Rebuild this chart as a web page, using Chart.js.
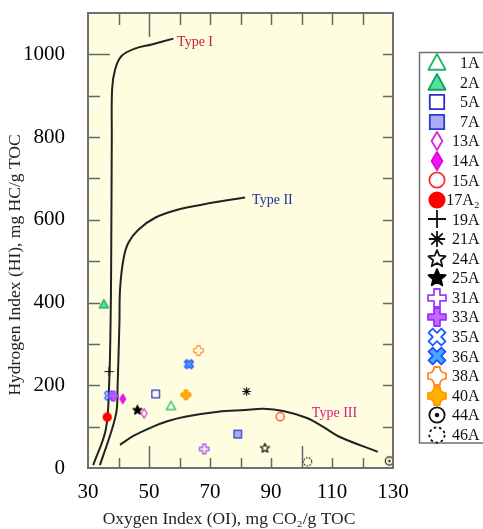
<!DOCTYPE html>
<html>
<head>
<meta charset="utf-8">
<script src="https://cdn.jsdelivr.net/npm/chart.js@4.4.1/dist/chart.umd.min.js"></script>
<style>
    html, body { margin: 0; padding: 0; background: #fff; }
    #wrap { width: 483px; height: 529px; }
</style>
</head>
<body>
<div id="wrap"><canvas id="hi-oi-chart" width="483" height="529"></canvas></div>
<script>
// samples (Oxygen Index vs Hydrogen Index)
const sampleNames = ['1A', '2A', '5A', '7A', '13A', '14A', '15A', '17A₂', '19A', '21A',
    '24A', '25A', '31A', '33A', '35A', '36A', '38A', '40A', '44A', '46A'];
const oxygenIndex = [57.2, 35.2, 52.2, 79.1, 48.4, 41.4, 93.0, 36.3, 36.9, 82.0,
    88.0, 46.2, 68.1, 38.3, 36.9, 63.1, 66.2, 62.1, 128.8, 102.0];
const hydrogenIndex = [150, 396, 179, 82, 132, 167, 124, 123, 233, 185,
    48, 140, 46, 174, 175, 251, 284, 177, 17, 15];

// kerogen type evolution curves
const typeIOI = [31.7, 35.8, 36.9, 37.4, 37.6, 37.8, 37.9, 38.9, 41.0, 45.4, 50.9, 58.0];
const typeIHI = [7, 92, 197, 350, 500, 800, 915, 964, 996, 1014, 1024, 1038];
const typeIIOI = [33.9, 37.8, 39.4, 39.7, 40.3, 40.5, 41.6, 43.2, 46.5, 52.0, 59.6, 70.6, 81.5];
const typeIIHI = [7, 92, 140, 197, 350, 431, 504, 544, 576, 605, 625, 641, 654];
const typeIIIOI = [40.5, 45, 51, 56, 61.8, 72.7, 81.5, 87.4, 94, 101.8, 107, 112.6, 125];
const typeIIIHI = [56, 78, 99, 113, 124, 136, 140, 143, 138, 121, 100, 75, 39];

const curveNames = ['Type I', 'Type II', 'Type III'];
const curveLabelOI = [59.2, 83.8, 103.4];
const curveLabelHI = [1029, 646, 133];

const xTickLabels = [30, 50, 70, 90, 110, 130];
const yTickLabels = [0, 200, 400, 600, 800, 1000];

const markerStyles = [
    { shape: 'triangle', fill: null, stroke: '#1db866' },
    { shape: 'triangle', fill: '#50e3a4', stroke: '#16a05c' },
    { shape: 'square', fill: null, stroke: '#2a2ad8' },
    { shape: 'square', fill: '#a9adf5', stroke: '#2a3ad0' },
    { shape: 'diamond', fill: null, stroke: '#e020e8' },
    { shape: 'diamond', fill: '#f015f0', stroke: '#e000e0' },
    { shape: 'circle', fill: null, stroke: '#ff2a2a' },
    { shape: 'circle', fill: '#ff0000', stroke: '#ff0000' },
    { shape: 'plus', fill: null, stroke: '#111' },
    { shape: 'asterisk', fill: null, stroke: '#111' },
    { shape: 'star', fill: null, stroke: '#111' },
    { shape: 'star', fill: '#000', stroke: '#000' },
    { shape: 'cross', fill: null, stroke: '#9f3cff' },
    { shape: 'cross', fill: '#c466ff', stroke: '#9a30ff' },
    { shape: 'xcross', fill: null, stroke: '#1f5cff' },
    { shape: 'xcross', fill: '#4aa8ff', stroke: '#1f4fff' },
    { shape: 'flower', fill: null, stroke: '#ff8a2a' },
    { shape: 'flower', fill: '#ffb000', stroke: '#ff9900' },
    { shape: 'dotcircle', fill: '#111', stroke: '#111' },
    { shape: 'dashcircle', fill: null, stroke: '#111' }
];

const serif = "'Liberation Serif', 'Times New Roman', serif";

function traceShape(ctx, shape, r) {
    ctx.beginPath();
    if (shape === 'triangle') {
        ctx.moveTo(0, -r);
        ctx.lineTo(r * 0.95, r * 0.75);
        ctx.lineTo(-r * 0.95, r * 0.75);
        ctx.closePath();
    } else if (shape === 'square') {
        ctx.rect(-r * 0.8, -r * 0.8, r * 1.6, r * 1.6);
    } else if (shape === 'diamond') {
        ctx.moveTo(0, -r);
        ctx.lineTo(r * 0.6, 0);
        ctx.lineTo(0, r);
        ctx.lineTo(-r * 0.6, 0);
        ctx.closePath();
    } else if (shape === 'circle') {
        ctx.arc(0, 0, r * 0.85, 0, Math.PI * 2);
    } else if (shape === 'star') {
        for (let i = 0; i < 10; i++) {
            const rr = i % 2 === 0 ? r : r * 0.45;
            const a = -Math.PI / 2 + i * Math.PI / 5;
            if (i === 0) ctx.moveTo(rr * Math.cos(a), rr * Math.sin(a));
            else ctx.lineTo(rr * Math.cos(a), rr * Math.sin(a));
        }
        ctx.closePath();
    } else if (shape === 'cross' || shape === 'xcross') {
        const a = r * 0.33;
        const pts = [[-a, -r], [a, -r], [a, -a], [r, -a], [r, a], [a, a],
            [a, r], [-a, r], [-a, a], [-r, a], [-r, -a], [-a, -a]];
        const rot = shape === 'xcross' ? Math.PI / 4 : 0;
        pts.forEach((p, i) => {
            const x = p[0] * Math.cos(rot) - p[1] * Math.sin(rot);
            const y = p[0] * Math.sin(rot) + p[1] * Math.cos(rot);
            if (i === 0) ctx.moveTo(x, y); else ctx.lineTo(x, y);
        });
        ctx.closePath();
    } else if (shape === 'flower') {
        const a = r * 0.32;
        ctx.moveTo(-a, -r);
        ctx.lineTo(a, -r);
        ctx.quadraticCurveTo(a, -a, r, -a);
        ctx.lineTo(r, a);
        ctx.quadraticCurveTo(a, a, a, r);
        ctx.lineTo(-a, r);
        ctx.quadraticCurveTo(-a, a, -r, a);
        ctx.lineTo(-r, -a);
        ctx.quadraticCurveTo(-a, -a, -a, -r);
        ctx.closePath();
    }
}

function makeMarker(style, r, lw) {
    const size = Math.ceil(2 * r + lw + 4);
    const c = document.createElement('canvas');
    c.width = size;
    c.height = size;
    const ctx = c.getContext('2d');
    ctx.translate(size / 2, size / 2);
    ctx.lineWidth = lw;
    ctx.lineJoin = 'round';
    ctx.strokeStyle = style.stroke;
    ctx.fillStyle = style.fill || style.stroke;

    if (style.shape === 'plus') {
        ctx.beginPath();
        ctx.moveTo(-r, 0); ctx.lineTo(r, 0);
        ctx.moveTo(0, -r); ctx.lineTo(0, r);
        ctx.stroke();
    } else if (style.shape === 'asterisk') {
        ctx.beginPath();
        for (let i = 0; i < 4; i++) {
            const a = i * Math.PI / 4;
            ctx.moveTo(-r * 0.9 * Math.cos(a), -r * 0.9 * Math.sin(a));
            ctx.lineTo(r * 0.9 * Math.cos(a), r * 0.9 * Math.sin(a));
        }
        ctx.stroke();
        ctx.beginPath();
        ctx.arc(0, 0, r * 0.3, 0, Math.PI * 2);
        ctx.fill();
    } else if (style.shape === 'dotcircle') {
        ctx.beginPath();
        ctx.arc(0, 0, r * 0.85, 0, Math.PI * 2);
        ctx.stroke();
        ctx.beginPath();
        ctx.arc(0, 0, r * 0.25, 0, Math.PI * 2);
        ctx.fill();
    } else if (style.shape === 'dashcircle') {
        ctx.setLineDash([r * 0.3, r * 0.3]);
        ctx.beginPath();
        ctx.arc(0, 0, r * 0.85, 0, Math.PI * 2);
        ctx.stroke();
    } else {
        traceShape(ctx, style.shape, r);
        if (style.fill) ctx.fill();
        ctx.stroke();
    }
    return c;
}

const plotMarkers = markerStyles.map(s => makeMarker(s, 4.8, 1.2));
const legendMarkers = markerStyles.map(s => makeMarker(s, 9, 1.8));

function buildDatasets() {
    const datasets = sampleNames.map((name, i) => ({
        label: name,
        data: [{ x: oxygenIndex[i], y: hydrogenIndex[i] }],
        pointStyle: plotMarkers[i],
        pointRadius: 5,
        order: 0
    }));
    const curves = [[typeIOI, typeIHI], [typeIIOI, typeIIHI], [typeIIIOI, typeIIIHI]];
    curves.forEach((c, k) => {
        datasets.push({
            label: curveNames[k],
            data: c[0].map((x, i) => ({ x: x, y: c[1][i] })),
            showLine: true,
            borderColor: '#222',
            borderWidth: 2,
            pointRadius: 0,
            tension: 0.35,
            order: 1
        });
    });
    return datasets;
}

const plotBackground = {
    id: 'plotBackground',
    beforeDraw(chart) {
        const { ctx, chartArea: a } = chart;
        ctx.save();
        ctx.fillStyle = '#fffde0';
        ctx.fillRect(a.left, a.top, a.width, a.height);
        ctx.restore();
    }
};

const frameAndDecor = {
    id: 'frameAndDecor',
    afterDraw(chart) {
        const { ctx, chartArea: a, scales } = chart;
        const xs = scales.x, ys = scales.y;
        ctx.save();

        // inward ticks
        ctx.strokeStyle = '#666';
        ctx.lineWidth = 1.5;
        ctx.beginPath();
        xs.ticks.forEach(t => {
            if (t.value <= xs.min || t.value >= xs.max) return;
            const px = Math.round(xs.getPixelForValue(t.value)) + 0.5;
            const lb = (t.value === 50 || t.value === 100) ? 22 : 10;
            const lt = t.value === 50 ? 24 : 12;
            ctx.moveTo(px, a.bottom); ctx.lineTo(px, a.bottom - lb);
            ctx.moveTo(px, a.top); ctx.lineTo(px, a.top + lt);
        });
        ys.ticks.forEach(t => {
            if (t.value <= ys.min || t.value >= ys.max) return;
            const py = Math.round(ys.getPixelForValue(t.value)) + 0.5;
            const ll = t.value === 1000 ? 22 : 12;
            ctx.moveTo(a.left, py); ctx.lineTo(a.left + ll, py);
            ctx.moveTo(a.right, py); ctx.lineTo(a.right - 10, py);
        });
        ctx.stroke();

        // frame
        ctx.lineWidth = 2;
        ctx.strokeStyle = '#707070';
        ctx.strokeRect(a.left, a.top, a.width, a.height);

        // curve labels
        const curveColors = ['#c41e3a', '#1c2f9c', '#d81b7a'];
        ctx.font = '14px ' + serif;
        ctx.textAlign = 'left';
        ctx.textBaseline = 'middle';
        curveNames.forEach((name, i) => {
            ctx.fillStyle = curveColors[i];
            ctx.fillText(name, xs.getPixelForValue(curveLabelOI[i]), ys.getPixelForValue(curveLabelHI[i]));
        });

        // axis titles
        ctx.fillStyle = '#222';
        ctx.font = '17.5px ' + serif;
        ctx.textAlign = 'center';
        ctx.fillText('Oxygen Index (OI), mg CO₂/g TOC', 229, 519);
        ctx.save();
        ctx.translate(15, 265);
        ctx.rotate(-Math.PI / 2);
        ctx.fillText('Hydrogen Index (HI), mg HC/g TOC', 0, 0);
        ctx.restore();

        // legend
        ctx.lineWidth = 1.5;
        ctx.strokeStyle = '#707070';
        ctx.strokeRect(419.5, 52.5, 70, 390.5);
        ctx.font = '16px ' + serif;
        ctx.textAlign = 'right';
        ctx.fillStyle = '#111';
        sampleNames.forEach((name, i) => {
            const y = 63 + i * 19.56;
            const m = legendMarkers[i];
            ctx.drawImage(m, Math.round(436.5 - m.width / 2), Math.round(y - m.height / 2));
            ctx.fillText(name, 479.5, y + 1);
        });
        ctx.restore();
    }
};

function drawChart() {
    const ctx = document.getElementById('hi-oi-chart').getContext('2d');
    new Chart(ctx, {
        type: 'scatter',
        data: { datasets: buildDatasets() },
        options: {
            responsive: false,
            animation: false,
            events: [],
            layout: { padding: { top: 13, right: 90, left: 0, bottom: 0 } },
            plugins: {
                legend: { display: false },
                tooltip: { enabled: false }
            },
            scales: {
                x: {
                    type: 'linear',
                    min: 30,
                    max: 130,
                    afterFit: s => { s.height = 61; s.paddingLeft = 0; s.paddingRight = 0; },
                    grid: { display: false, drawTicks: false },
                    border: { display: false },
                    ticks: {
                        stepSize: 10,
                        autoSkip: false,
                        maxRotation: 0,
                        padding: 12,
                        color: '#000',
                        font: { family: serif, size: 21 },
                        callback: v => xTickLabels.includes(v) ? String(v) : ''
                    }
                },
                y: {
                    type: 'linear',
                    min: 0,
                    max: 1100,
                    afterFit: s => { s.width = 88; s.paddingTop = 0; s.paddingBottom = 0; },
                    grid: { display: false, drawTicks: false },
                    border: { display: false },
                    ticks: {
                        stepSize: 100,
                        autoSkip: false,
                        padding: 23,
                        color: '#000',
                        font: { family: serif, size: 21 },
                        callback: v => yTickLabels.includes(v) ? String(v) : ''
                    }
                }
            }
        },
        plugins: [plotBackground, frameAndDecor]
    });
}

window.onload = function () {
    drawChart();
};
</script>
</body>
</html>
